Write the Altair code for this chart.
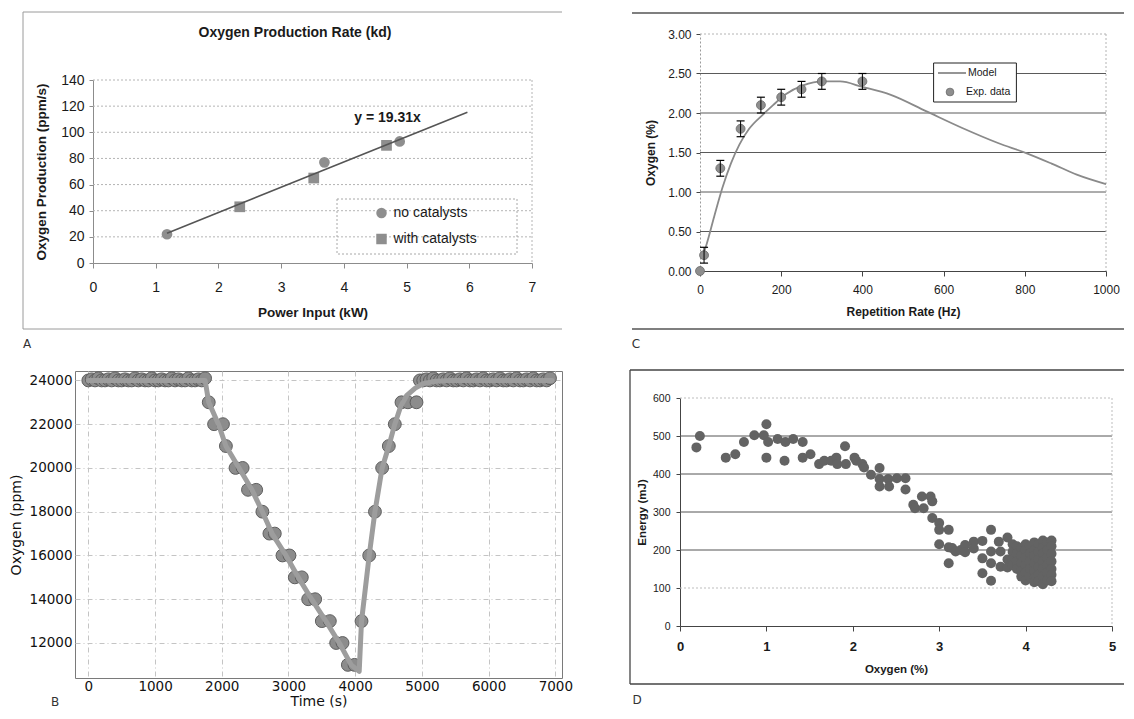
import altair as alt
import pandas as pd

ARIAL = "Liberation Sans"
GOTH = "DejaVu Sans"
INK = "#1a1a1a"
ONE = alt.Data(values=[{"k": 0}])

# ---------------- Panel A data ----------------
a_series = ["no catalysts", "with catalysts"]
a_nocat_x = [1.18, 3.69, 4.89]
a_nocat_y = [22, 77, 93]
a_cat_x = [2.34, 3.52, 4.68]
a_cat_y = [43, 65, 90]
a_fit_x = [1.18, 5.97]
a_fit_y = [22.8, 115.3]
a_xticks = [0, 1, 2, 3, 4, 5, 6, 7]
a_yticks = [0, 20, 40, 60, 80, 100, 120, 140]
a_gridlines = [20, 40, 60, 80, 100, 120, 140]

# ---------------- Panel C data ----------------
c_model_x = [5, 14, 35, 55, 76, 97, 121, 155, 180, 212, 254, 303, 345, 400, 470, 558, 646, 734, 805, 866, 928, 1000]
c_model_y = [0.17, 0.30, 0.69, 1.05, 1.36, 1.60, 1.80, 1.98, 2.10, 2.24, 2.35, 2.40, 2.40, 2.33, 2.23, 2.02, 1.81, 1.62, 1.49, 1.36, 1.22, 1.10]
c_exp_x = [0, 10, 50, 100, 150, 200, 250, 300, 400]
c_exp_y = [0.0, 0.2, 1.3, 1.8, 2.1, 2.2, 2.3, 2.4, 2.4]
c_err_x = [10, 50, 100, 150, 200, 250, 300, 400]
c_err_lo = [0.1, 1.2, 1.7, 2.0, 2.1, 2.2, 2.3, 2.3]
c_err_hi = [0.3, 1.4, 1.9, 2.2, 2.3, 2.4, 2.5, 2.5]
c_xticks = [0, 200, 400, 600, 800, 1000]
c_yticks = [0, 0.5, 1.0, 1.5, 2.0, 2.5, 3.0]
c_dark_grid = [0.5, 1.0, 1.5, 2.0, 2.5]
c_light_grid = [3.0]

# ---------------- Panel B data ----------------
b_pl1_t = [0, 50, 100, 150, 200, 250, 300, 350, 400, 450, 500, 550, 600, 650, 700, 750, 800, 850,
           900, 950, 1000, 1050, 1100, 1150, 1200, 1250, 1300, 1350, 1400, 1450, 1500, 1550, 1600, 1650, 1700, 1750]
b_pl1_y = [24000, 24050, 24000, 24100, 24000, 24000,
           24050, 24000, 24100, 24000, 24000, 24050,
           24000, 24000, 24100, 24000, 24050, 24000,
           24000, 24100, 24000, 24000, 24050, 24000,
           24000, 24100, 24000, 24050, 24000, 24000,
           24100, 24000, 24000, 24050, 24000, 24100]
b_down_t = [1805, 1885, 2018, 2062, 2206, 2313, 2393, 2516, 2609, 2714, 2795, 2910, 3015, 3095, 3200,
            3295, 3400, 3500, 3620, 3715, 3810, 3890, 3990]
b_down_y = [23000, 22000, 22000, 21000, 20000, 20000, 19000, 19000, 18000, 17000, 17000, 16000, 16000,
            15000, 15000, 14000, 14000, 13000, 13000, 12000, 12000, 11000, 11000]
b_up_t = [4095, 4210, 4296, 4404, 4504, 4594, 4694, 4790, 4919]
b_up_y = [13000, 16000, 18000, 20000, 21000, 22000, 23000, 23000, 23000]
b_pl2_t = [4970, 5020, 5070, 5120, 5170, 5220, 5270, 5320, 5370, 5420, 5470, 5520, 5570, 5620, 5670,
           5720, 5770, 5820, 5870, 5920, 5970, 6020, 6070, 6120, 6170, 6220, 6270, 6320, 6370, 6420,
           6470, 6520, 6570, 6620, 6670, 6720, 6770, 6820, 6870, 6920]
b_pl2_y = [24000, 24000, 24050, 24000, 24100, 24000,
           24000, 24050, 24000, 24100, 24000, 24000,
           24050, 24000, 24100, 24000, 24000, 24050,
           24000, 24100, 24000, 24000, 24050, 24000,
           24100, 24000, 24000, 24050, 24000, 24100,
           24000, 24000, 24050, 24000, 24100, 24000,
           24000, 24050, 24000, 24100]
b_line_t = [0, 1750, 1805, 1950, 2062, 2259, 2452, 2609, 2754, 2962, 3147, 3347, 3560, 3762, 3940,
            4060, 4095, 4210, 4296, 4404, 4504, 4594, 4680, 4770, 4900, 5018, 5200, 5420, 6950]
b_line_y = [24000, 24000, 23000, 22000, 21000, 20000, 19000, 18000, 17000, 16000, 15000, 14000, 13000,
            12000, 11000, 10700, 13000, 16000, 18000, 20000, 21000, 22000, 22800, 23300, 23650, 23850,
            23960, 24000, 24000]
b_xticks = [0, 1000, 2000, 3000, 4000, 5000, 6000, 7000]
b_yticks = [12000, 14000, 16000, 18000, 20000, 22000, 24000]

# ---------------- Panel D data ----------------
d_left_x = [0.19, 0.23, 0.53, 0.64, 0.74, 0.86, 0.97, 1.00, 1.00, 1.02, 1.13, 1.21, 1.22, 1.31, 1.42,
            1.42, 1.51, 1.61, 1.67, 1.75, 1.81, 1.82, 1.91, 1.92, 2.02, 2.04, 2.11, 2.13]
d_left_y = [470, 500, 443, 452, 484, 502, 502, 531, 443, 484, 492, 435, 484, 492, 484,
            443, 452, 426, 435, 435, 443, 426, 473, 426, 443, 435, 426, 417]
d_mid_x = [2.21, 2.31, 2.31, 2.31, 2.41, 2.42, 2.51, 2.61, 2.61, 2.70, 2.72, 2.80, 2.82, 2.90, 2.92,
           2.92, 3.00, 3.00]
d_mid_y = [398, 416, 387, 367, 387, 367, 389, 389, 359, 319, 310, 341, 310, 341, 328,
           284, 271, 253]
d_tail_x = [3.11, 3.00, 3.11, 3.11, 3.15, 3.19, 3.25, 3.30, 3.30, 3.40, 3.40, 3.50, 3.50, 3.50, 3.60,
            3.60, 3.60, 3.60, 3.69, 3.71, 3.71, 3.79, 3.79, 3.79]
d_tail_y = [253, 215, 207, 165, 205, 196, 200, 213, 194, 222, 204, 224, 178, 139, 253,
            196, 165, 119, 222, 196, 156, 233, 175, 154]
d_block_x = [3.85, 3.85, 3.85, 3.85, 3.90, 3.90, 3.90, 3.90, 3.95, 3.95, 3.95, 3.95, 3.95,
             4.00, 4.00, 4.00, 4.00, 4.00, 4.00, 4.05, 4.05, 4.05, 4.05, 4.05,
             4.10, 4.10, 4.10, 4.10, 4.10, 4.10, 4.10, 4.15, 4.15, 4.15, 4.15, 4.15, 4.15,
             4.20, 4.20, 4.20, 4.20, 4.20, 4.20, 4.20, 4.25, 4.25, 4.25, 4.25, 4.25, 4.25,
             4.30, 4.30, 4.30, 4.30, 4.30, 4.30, 4.30]
d_block_y = [215, 195, 175, 160, 210, 190, 170, 150, 205, 185, 165, 145, 130,
             215, 200, 180, 160, 140, 120, 210, 190, 170, 150, 130,
             220, 200, 185, 165, 145, 125, 115, 215, 195, 175, 155, 135, 118,
             225, 205, 190, 170, 150, 130, 110, 220, 200, 180, 160, 140, 120,
             225, 210, 190, 170, 150, 135, 118]
d_xticks = [0, 1, 2, 3, 4, 5]
d_yticks = [0, 100, 200, 300, 400, 500, 600]
d_dark_grid = [200, 300, 400, 500]
d_light_grid = [100, 600]


# ---------------- helpers (decoration only) ----------------
def rule(x, x2, y, y2, color, width=1.0, dash=None):
    kw = dict(color=color, strokeWidth=width)
    if dash is not None:
        kw["strokeDash"] = dash
    return alt.Chart(ONE).mark_rule(**kw).encode(
        x=alt.value(x), x2=alt.value(x2), y=alt.value(y), y2=alt.value(y2))


def rect(x, x2, y, y2, stroke=None, width=1.0, dash=None, fill="transparent"):
    kw = dict(fill=fill, strokeWidth=width)
    if stroke is not None:
        kw["stroke"] = stroke
    if dash is not None:
        kw["strokeDash"] = dash
    return alt.Chart(ONE).mark_rect(**kw).encode(
        x=alt.value(x), x2=alt.value(x2), y=alt.value(y), y2=alt.value(y2))


def txt(x, y, s, font=ARIAL, size=12, weight="normal", color=INK, align="center"):
    return alt.Chart(ONE).mark_text(font=font, fontSize=size, fontWeight=weight, color=color,
                                    align=align, baseline="middle").encode(
        x=alt.value(x), y=alt.value(y), text=alt.value(s))


def hgrid(values, field_enc, x0, x1, color, dash=None, width=1.0):
    kw = dict(color=color, strokeWidth=width)
    if dash is not None:
        kw["strokeDash"] = dash
    return alt.Chart(pd.DataFrame({"y": values})).mark_rule(**kw).encode(
        y=field_enc, x=alt.value(x0), x2=alt.value(x1))


# Column / row cells (page px): col1 x=75..562, col2 x=680..1112, row1 y=34..271, row2 y=371..678

# ================= Panel A =================
A_W, A_H = 487, 237
A_XR = [18, 457]
A_YR = [229, 46]
a_pts = pd.DataFrame({
    "x": a_nocat_x + a_cat_x,
    "y": a_nocat_y + a_cat_y,
    "series": [a_series[0]] * len(a_nocat_x) + [a_series[1]] * len(a_cat_x),
})
a_fit = pd.DataFrame({"x": a_fit_x, "y": a_fit_y})
a_x = alt.X("x:Q", title="Power Input (kW)",
            scale=alt.Scale(domain=[0, 7], range=A_XR, nice=False, zero=False),
            axis=alt.Axis(values=a_xticks, grid=False, offset=-8, domainColor="#8c8c8c", tickColor="#8c8c8c",
                          tickSize=5, labelFont=ARIAL, labelFontSize=14, labelColor=INK, labelPadding=12,
                          titleFont=ARIAL, titleFontSize=13.5, titleFontWeight="bold", titleColor=INK,
                          titlePadding=11))
a_y = alt.Y("y:Q", title="Oxygen Production (ppm/s)",
            scale=alt.Scale(domain=[0, 140], range=A_YR, nice=False),
            axis=alt.Axis(values=a_yticks, grid=False, offset=-18, domainColor="#8c8c8c", tickColor="#8c8c8c",
                          tickSize=4, labelFont=ARIAL, labelFontSize=14, labelColor=INK, labelPadding=5,
                          titleFont=ARIAL, titleFontSize=13.5, titleFontWeight="bold", titleColor=INK,
                          titlePadding=12))
a_points = alt.Chart(a_pts).mark_point(filled=True, opacity=1, color="#8e8e8e", size=115, strokeWidth=0).encode(
    x=a_x, y=a_y,
    shape=alt.Shape("series:N", scale=alt.Scale(domain=a_series, range=["circle", "square"]),
                    legend=alt.Legend(title=None, orient="none", legendX=299.5, legendY=172,
                                      labelFont=ARIAL, labelFontSize=14, labelColor=INK, rowPadding=12,
                                      symbolSize=110, symbolFillColor="#8e8e8e", symbolStrokeWidth=0,
                                      labelOffset=5, padding=0)))
a_line = alt.Chart(a_fit).mark_line(color="#555555", strokeWidth=1.6).encode(x=a_x, y=a_y)

panel_a = alt.layer(
    rect(-67, -60, -26, -20),                      # pins the page corner
    rule(-52, 487, -22, -22, "#9a9a9a"),
    rule(-52, 487, 295, 295, "#9a9a9a"),
    rule(-52, -52, -22, 295, "#9a9a9a"),
    hgrid(a_gridlines, a_y, A_XR[0], A_XR[1], "#b4b4b4", dash=[2, 2]),
    rule(A_XR[1], A_XR[1], A_YR[1], A_YR[0], "#b4b4b4", dash=[2, 2]),
    rect(262, 442, 165, 220, stroke="#a8a8a8", dash=[2, 2]),
    a_points,
    a_line,
    txt(220, -1, "Oxygen Production Rate (kd)", size=14, weight="bold"),
    txt(312.5, 84, "y = 19.31x", size=14, weight="bold"),
    txt(-48, 310, "A", font=GOTH, size=12, color="#333333"),
).properties(width=A_W, height=A_H)

# ================= Panel C =================
C_W, C_H = 432, 237
C_XR = [20, 426]
C_YR = [237, 0]
c_x = alt.X("x:Q", title="Repetition Rate (Hz)",
            scale=alt.Scale(domain=[0, 1000], range=C_XR, nice=False),
            axis=alt.Axis(values=c_xticks, format="d", grid=False, domainColor="#444444", tickColor="#444444",
                          tickSize=5, labelFont=ARIAL, labelFontSize=12, labelColor=INK, labelPadding=8,
                          titleFont=ARIAL, titleFontSize=12, titleFontWeight="bold", titleColor=INK,
                          titlePadding=11))
c_y = alt.Y("y:Q", title="Oxygen (%)",
            scale=alt.Scale(domain=[0, 3], range=C_YR, nice=False),
            axis=alt.Axis(values=c_yticks, format=".2f", grid=False, offset=-20,
                          domainColor="#9a9a9a", domainDash=[2, 2], tickColor="#444444", tickSize=4,
                          labelFont=ARIAL, labelFontSize=12, labelColor=INK, labelPadding=5,
                          titleFont=ARIAL, titleFontSize=12, titleFontWeight="bold", titleColor=INK,
                          titlePadding=10))
c_model = alt.Chart(pd.DataFrame({"x": c_model_x, "y": c_model_y})).mark_line(
    color="#8a8a8a", strokeWidth=1.8, interpolate="monotone").encode(x=c_x, y=c_y)
c_points = alt.Chart(pd.DataFrame({"x": c_exp_x, "y": c_exp_y})).mark_circle(
    size=80, color="#8e8e8e", opacity=1, stroke="#6a6a6a", strokeWidth=0.8).encode(x=c_x, y=c_y)
c_err_df = pd.DataFrame({"x": c_err_x, "y": c_err_lo, "hi": c_err_hi})
c_err = alt.Chart(c_err_df).mark_rule(color="#000000", strokeWidth=1).encode(x=c_x, y=c_y, y2="hi:Q")
c_cap_lo = alt.Chart(c_err_df).mark_tick(orient="horizontal", size=8, thickness=1.2, color="#000000",
                                         opacity=1).encode(x=c_x, y=c_y)
c_cap_hi = alt.Chart(pd.DataFrame({"x": c_err_x, "y": c_err_hi})).mark_tick(
    orient="horizontal", size=8, thickness=1.2, color="#000000", opacity=1).encode(x=c_x, y=c_y)

panel_c = alt.layer(
    rule(-48, 444, -21, -21, "#555555", 1.5),
    rule(-48, 444, 295, 295, "#555555", 1.5),
    hgrid(c_dark_grid, c_y, C_XR[0], C_XR[1], "#5a5a5a"),
    hgrid(c_light_grid, c_y, C_XR[0], C_XR[1], "#b4b4b4", dash=[2, 2]),
    rule(C_XR[1], C_XR[1], C_YR[1], C_YR[0], "#b4b4b4", dash=[2, 2]),
    c_model, c_points, c_err, c_cap_lo, c_cap_hi,
    rect(253.6, 336.4, 29, 68, stroke="#222222", width=1, fill="white"),
    rule(258, 286, 39, 39, "#8a8a8a", 1.8),
    txt(288, 39, "Model", size=10.5, align="left"),
    alt.Chart(ONE).mark_circle(size=60, color="#8e8e8e", opacity=1, stroke="#6a6a6a", strokeWidth=0.8).encode(
        x=alt.value(270), y=alt.value(58)),
    txt(286, 58, "Exp. data", size=10.5, align="left"),
    txt(-44, 310, "C", font=GOTH, size=12, color="#333333"),
).properties(width=C_W, height=C_H)

# ================= Panel B =================
B_W, B_H = 487, 307
b_pts = pd.DataFrame({"t": b_pl1_t + b_down_t + b_up_t + b_pl2_t,
                      "o": b_pl1_y + b_down_y + b_up_y + b_pl2_y})
b_ln = pd.DataFrame({"t": b_line_t, "o": b_line_y})
b_x = alt.X("t:Q", title="Time (s)", scale=alt.Scale(domain=[-200, 7100], nice=False, zero=False),
            axis=alt.Axis(values=b_xticks, format="d", grid=True, gridColor="#c4c4c4", gridDash=[5, 3, 1, 3],
                          domain=False, ticks=False, tickSize=0,
                          labelFont=GOTH, labelFontSize=13.5, labelColor="#111111", labelPadding=1,
                          titleFont=GOTH, titleFontSize=14, titleFontWeight="normal", titleColor="#111111",
                          titlePadding=2))
b_y = alt.Y("o:Q", title="Oxygen (ppm)", scale=alt.Scale(domain=[10400, 24430], nice=False, zero=False),
            axis=alt.Axis(values=b_yticks, format="d", grid=True, gridColor="#c4c4c4", gridDash=[5, 3, 1, 3],
                          domain=False, ticks=False, tickSize=0,
                          labelFont=GOTH, labelFontSize=13.5, labelColor="#111111", labelPadding=3,
                          titleFont=GOTH, titleFontSize=14, titleFontWeight="normal", titleColor="#111111",
                          titlePadding=6))
b_points = alt.Chart(b_pts).mark_circle(size=165, color="#8c8c8c", opacity=1, stroke="#5e5e5e",
                                        strokeWidth=1).encode(x=b_x, y=b_y)
b_line = alt.Chart(b_ln).mark_line(color="#9d9d9d", strokeWidth=5, strokeJoin="round",
                                   strokeCap="round").encode(x=b_x, y=b_y)

panel_b = alt.layer(
    b_points, b_line,
    txt(-20, 331, "B", font=GOTH, size=12, color="#333333"),
).properties(width=B_W, height=B_H, view=alt.ViewBackground(stroke="#7a7a7a", strokeWidth=1))

# ================= Panel D =================
D_W, D_H = 432, 307
D_XR = [0, 432]
D_YR = [255, 27]
d_df = pd.DataFrame({"x": d_left_x + d_mid_x + d_tail_x + d_block_x,
                     "y": d_left_y + d_mid_y + d_tail_y + d_block_y})
d_x = alt.X("x:Q", title="Oxygen (%)", scale=alt.Scale(domain=[0, 5], range=D_XR, nice=False),
            axis=alt.Axis(values=d_xticks, grid=False, offset=-52, domainColor="#444444", tickColor="#444444",
                          tickSize=5, labelFont=ARIAL, labelFontSize=13, labelFontWeight="bold", labelColor=INK,
                          labelPadding=9, titleFont=ARIAL, titleFontSize=11.5, titleFontWeight="bold",
                          titleColor=INK, titlePadding=10.5))
d_y = alt.Y("y:Q", title="Energy (mJ)", scale=alt.Scale(domain=[0, 600], range=D_YR, nice=False),
            axis=alt.Axis(values=d_yticks, grid=False, domainColor="#444444", tickColor="#444444", tickSize=4,
                          labelFont=ARIAL, labelFontSize=10.5, labelColor=INK, labelPadding=6,
                          titleFont=ARIAL, titleFontSize=11.5, titleFontWeight="bold", titleColor=INK,
                          titlePadding=5.3))
d_points = alt.Chart(d_df).mark_circle(size=100, color="#636363", opacity=1).encode(x=d_x, y=d_y)

panel_d = alt.layer(
    rule(-50, 444, -1, -1, "#444444", 1.3),
    rule(-50, 444, 313, 313, "#444444", 1.3),
    rule(-50, -50, -1, 313, "#444444", 1.3),
    hgrid(d_dark_grid, d_y, D_XR[0], D_XR[1], "#555555"),
    hgrid(d_light_grid, d_y, D_XR[0], D_XR[1], "#bdbdbd", dash=[2, 2]),
    rule(D_XR[1], D_XR[1], D_YR[1], D_YR[0], "#bdbdbd", dash=[2, 2]),
    d_points,
    txt(-43, 329, "D", font=GOTH, size=12, color="#333333"),
).properties(width=D_W, height=D_H)

# ================= Layout =================
chart = alt.concat(
    panel_a, panel_c, panel_b, panel_d,
    columns=2, spacing=alt.RowColnumber(row=100, column=118), align="each",
    bounds="flush", padding=0, background="white",
).configure_axis(
    labelFlush=False, labelOverlap=False, minExtent=0, maxExtent=200
).configure_view(stroke=None)

chart.save("out.html", embed_options={"renderer": "svg", "actions": False})
